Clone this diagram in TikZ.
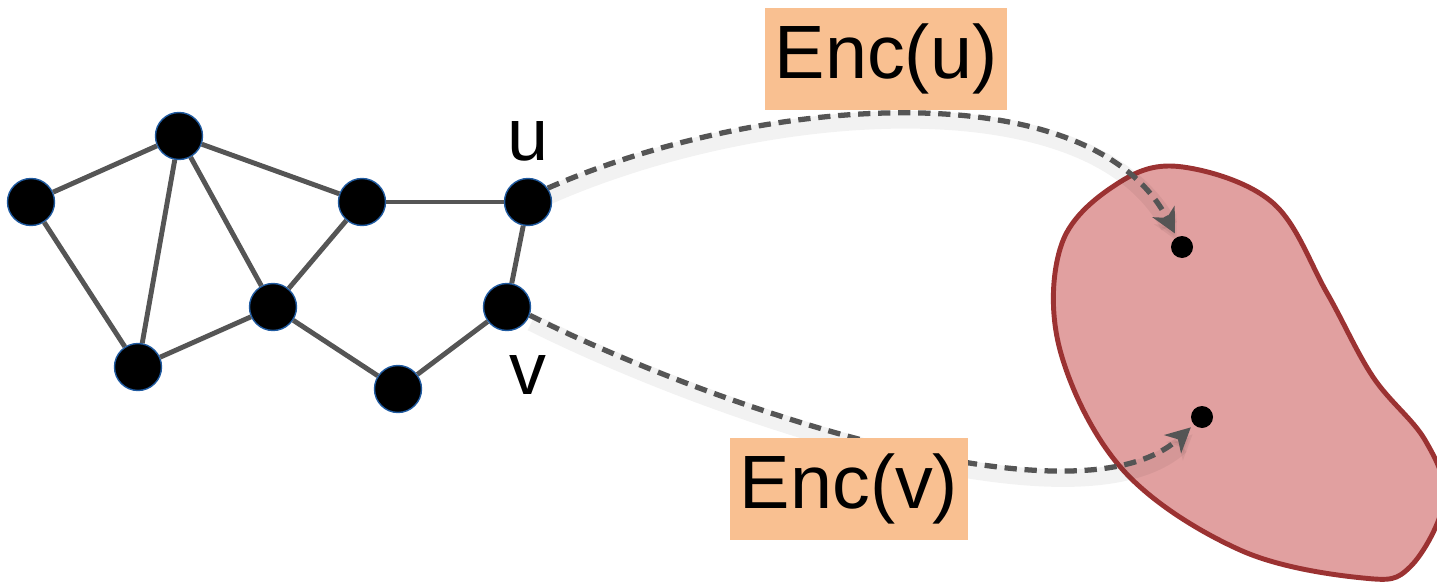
\documentclass[tikz,border=0pt]{standalone}
\usepackage{fontspec}
\setmainfont{Liberation Sans}
\usetikzlibrary{arrows.meta,positioning}
\definecolor{edgegray}{RGB}{85,85,85}
\definecolor{rimblue}{RGB}{31,90,160}
\definecolor{peach}{RGB}{249,192,145}
\definecolor{blobfill}{RGB}{225,160,160}
\definecolor{blobline}{RGB}{155,50,50}

\begin{document}
\begin{tikzpicture}[vertex/.style={circle,fill=black,draw=rimblue,line width=0.4pt,minimum size=4.7mm,inner sep=0pt},point/.style={circle,fill=black,minimum size=2.2mm,inner sep=0pt},edge/.style={draw=edgegray,line width=1.4pt},tag/.style={fill=peach,minimum height=10.2mm,inner sep=0pt,font=\fontsize{21.5}{26}\selectfont},enc/.style={draw=edgegray,line width=1.5pt,dash pattern=on 3.5pt off 2.2pt,-{Stealth[length=7pt,width=7pt,inset=2pt]},shorten >=1pt,preaction={draw=black,opacity=0.05,line width=5pt,solid,transform canvas={shift={(0.5pt,-2pt)}}}}]
\useasboundingbox (0,0) rectangle (14.37,-5.83);
% embedding space
\draw[blobline,fill=blobfill,line width=1.4pt] plot[smooth cycle,tension=0.6] coordinates {(11.83,-1.67) (12.73,-2.03) (13.27,-2.93) (13.73,-3.77) (14.25,-4.40) (14.44,-5.00) (14.10,-5.67) (13.63,-5.78) (12.40,-5.50) (11.23,-4.70) (10.60,-3.50) (10.62,-2.43) (11.20,-1.82)};
\node[point] (eu) at (11.82,-2.47) {};
\node[point] (ev) at (12.02,-4.17) {};
% graph
\node[vertex] (a) at (0.31,-2.02) {};
\node[vertex] (b) at (1.79,-1.36) {};
\node[vertex] (c) at (1.38,-3.67) {};
\node[vertex] (d) at (2.73,-3.07) {};
\node[vertex] (e) at (3.62,-2.02) {};
\node[vertex] (f) at (3.98,-3.89) {};
\node[vertex] (u) at (5.28,-2.02) {};
\node[vertex] (v) at (5.07,-3.07) {};
\foreach \s/\t in {a/b,a/c,b/c,b/d,b/e,c/d,d/e,d/f,e/u,u/v,v/f}
  \draw[edge] (\s)--(\t);
\node[above=1.6mm of u,inner sep=0pt,font=\fontsize{21}{25}\selectfont] (ulab) {u};
\node[below=2.4mm of v,xshift=2.1mm,inner sep=0pt,font=\fontsize{21}{25}\selectfont] (vlab) {v};
% encoder arrows
\draw[enc] (u.35) .. controls (7.60,-0.95) and (10.90,-0.70) .. (eu);
\draw[enc] (v.-20) .. controls (7.20,-4.10) and (10.80,-5.30) .. (ev);
\node[tag,minimum width=24.2mm] (encu) at (8.86,-0.59) {Enc(u)};
\node[tag,minimum width=23.8mm] (encv) at (8.49,-4.89) {Enc(v)};
\end{tikzpicture}
\end{document}
